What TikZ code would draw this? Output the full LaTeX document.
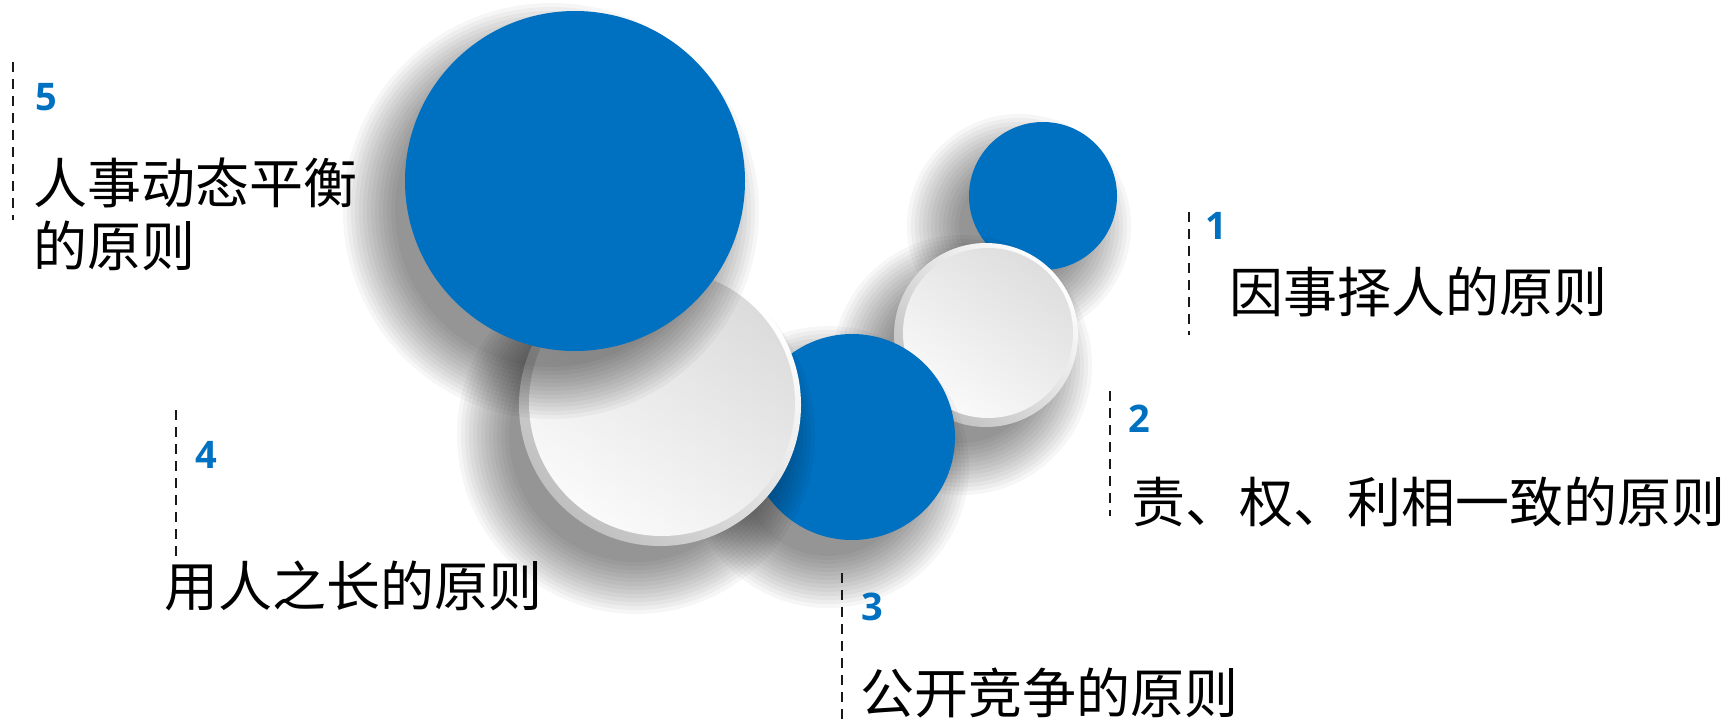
\documentclass[tikz,border=0pt]{standalone}
\usepackage{fontspec}
\newfontfamily\cjk{Noto Sans CJK SC}
\newfontfamily\numfont{Open Sans}
\definecolor{planblue}{RGB}{0,112,192}

% soft drop shadow under a disc: centre, radius
\newcommand{\discshadow}[2]{%
  \foreach \k in {0,...,13}
    \fill[black, opacity=0.037] (#1) ++(-24,30) circle ({#2-14+4*\k});
}

\tikzset{
  bluedisc/.style={fill=planblue},
  numlabel/.style={text=planblue, font=\numfont\bfseries\fontsize{38}{42}\selectfont,
    anchor=base west, inner sep=0pt},
  principle/.style={font=\cjk\fontsize{54}{63}\selectfont, anchor=base west, inner sep=0pt},
  guide/.style={black!90, line width=2.6pt, dash pattern=on 10pt off 7pt}
}

\begin{document}
\begin{tikzpicture}[x=1pt, y=-1pt]

    % page frame
    \fill[white] (0,0) rectangle (1726,720);
    \useasboundingbox (0,0) rectangle (1726,720);

    % Centres of the discs (back to front)
    \coordinate (S1) at (1043,196);     % small blue
    \coordinate (P1) at (986,335);      % small plate
    \coordinate (S2) at (852,437);      % middle blue
    \coordinate (P2) at (660,405);      % large plate
    \coordinate (S3) at (575,181);      % large blue

    % small blue disc
    \discshadow{S1}{74}
    \fill[bluedisc] (S1) circle (74);

    % small plate
    \discshadow{P1}{92}
    \shade[top color=white, bottom color=black!25, shading angle=-45] (P1) circle (92);
    \shade[top color=black!13, bottom color=black!2, shading angle=-35]
      ([shift={(2,-2)}]P1) circle (85);

    % middle blue disc
    \discshadow{S2}{103}
    \fill[bluedisc] (S2) circle (103);

    % large plate
    \discshadow{P2}{141}
    \shade[top color=white, bottom color=black!25, shading angle=-45] (P2) circle (141);
    \shade[top color=black!14, bottom color=black!2, shading angle=-35]
      ([shift={(2,-2)}]P2) circle (133);

    % large blue disc
    \discshadow{S3}{170}
    \fill[bluedisc] (S3) circle (170);

    % Dashed guides
    \draw[guide] (13,62) -- (13,220);
    \draw[guide] (1189,212) -- (1189,335);
    \draw[guide] (1110,391) -- (1110,516);
    \draw[guide] (842,573) -- (842,720);
    \draw[guide] (176,410) -- (176,557);

    % Principle 5
    \node[numlabel] (n5) at (35,110) {5};
    \node[principle] (t5a) at (33,203) {人事动态平衡};
    \node[principle] (t5b) at (33,266) {的原则};

    % Principle 1
    \node[numlabel] (n1) at (1205,239) {1};
    \node[principle] (t1) at (1229,312) {因事择人的原则};

    % Principle 2
    \node[numlabel] (n2) at (1128,432) {2};
    \node[principle] (t2) at (1131,522) {责、权、利相一致的原则};

    % Principle 3
    \node[numlabel] (n3) at (861,620) {3};
    \node[principle] (t3) at (860,713) {公开竞争的原则};

    % Principle 4
    \node[numlabel] (n4) at (195,468) {4};
    \node[principle] (t4) at (164,606) {用人之长的原则};

\end{tikzpicture}
\end{document}
